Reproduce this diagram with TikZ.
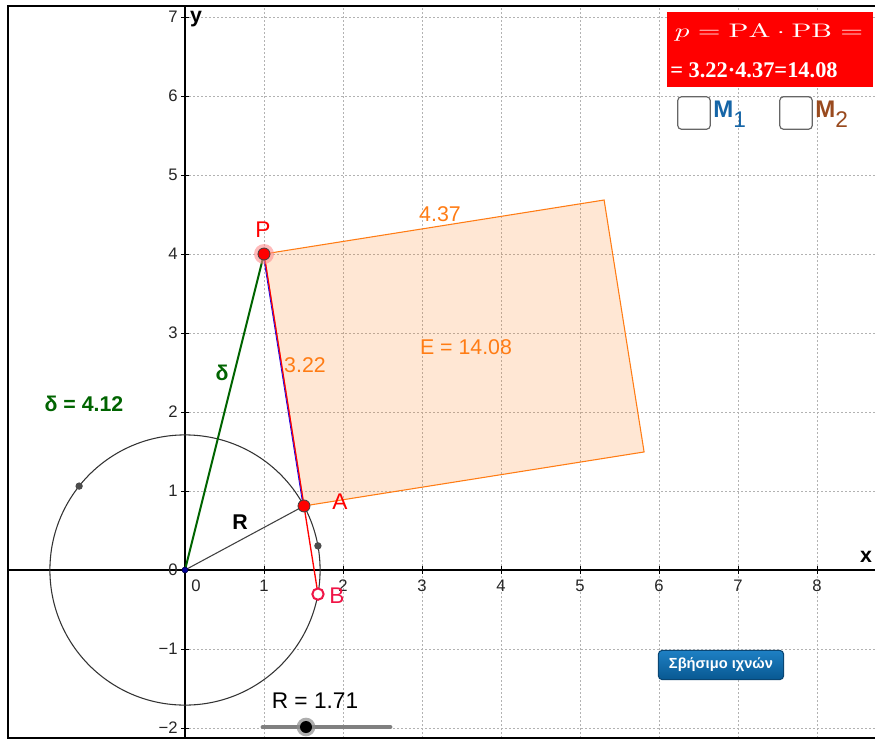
\documentclass[tikz,border=0pt]{standalone}
\usepackage{fontspec}
\usepackage{graphicx}
\newfontfamily\sfx{Liberation Sans}
\newfontfamily\serifx{Liberation Serif}
\usetikzlibrary{calc}
\definecolor{ggorange}{RGB}{255,124,20}
\definecolor{gggreen}{RGB}{0,100,0}
\definecolor{ggcrimson}{RGB}{240,20,70}
\definecolor{ggblue}{RGB}{21,101,167}
\definecolor{ggbrown}{RGB}{153,74,30}
\definecolor{btntop}{RGB}{30,128,196}
\definecolor{btnbot}{RGB}{8,88,145}
\definecolor{btnedge}{RGB}{10,70,115}
\begin{document}
\begin{tikzpicture}[x=0.75pt,y=-0.75pt,
  gridln/.style={draw=black!30, line width=0.75pt, dash pattern=on 1.5pt off 1.5pt},
  axisln/.style={draw=black, line width=1pt},
  tickln/.style={draw=black, line width=0.75pt},
  lbl/.style={inner sep=0pt, font=\sfx\fontsize{17}{19}\selectfont},
  olbl/.style={inner sep=0pt, text=ggorange, font=\sfx\fontsize{16}{18}\selectfont},
  blbl/.style={inner sep=0pt, font=\sfx\bfseries\fontsize{16}{18}\selectfont},
  ticklbl/.style={inner sep=0pt, font=\sfx\fontsize{12.5}{14}\selectfont, text=black!85},
  axlbl/.style={inner sep=0pt, font=\sfx\bfseries\fontsize{16}{18}\selectfont},
  ptred/.style={circle, inner sep=0pt, minimum size=9pt, fill=red, draw=black!75, line width=0.6pt},
  halo/.style={circle, inner sep=0pt, minimum size=15pt, fill=red!45, fill opacity=0.6},
  ptgray/.style={circle, inner sep=0pt, minimum size=5.5pt, fill=black!70},
  ptopen/.style={circle, inner sep=0pt, minimum size=8.5pt, draw=ggcrimson, line width=1.5pt, fill=white},
  ptblue/.style={circle, inner sep=0pt, minimum size=4.5pt, fill=blue!60!black, draw=blue!25!black, line width=0.4pt},
  chk/.style={rectangle, rounded corners=3pt, draw=black!60, line width=0.9pt, fill=white, minimum size=24.5pt, inner sep=0pt},
  btn/.style={rectangle, rounded corners=3pt, draw=btnedge, line width=0.8pt, top color=btntop, bottom color=btnbot, minimum width=94pt, minimum height=22pt, inner sep=0pt, text=white, font=\sfx\bfseries\fontsize{11}{13}\selectfont}
]
\useasboundingbox (0,0) rectangle (875,740);
\fill[white] (0,0) rectangle (875,740);

\begin{scope}[shift={(185,570)}, x=59.25pt, y=59.25pt]
  % grid
  \foreach \i in {1,...,8} \draw[gridln] (\i,-2.127) -- (\i,7.139);
  \foreach \j in {-2,-1,1,2,3,4,5,6,7} \draw[gridln] (0,\j) -- (8.74,\j);
  % axes
  \draw[axisln] (-2.24,0) -- (8.74,0);
  \draw[axisln] (0,-2.127) -- (0,7.139);
  \foreach \i in {1,...,8} \draw[tickln] (\i,-0.045) -- (\i,0.045);
  \foreach \j in {-2,-1,1,2,3,4,5,6,7} \draw[tickln] (-0.045,\j) -- (0.045,\j);
  % tick labels
  \node[ticklbl] (x0) at (0.14,-0.2) {0};
  \foreach \i in {1,...,8} \node[ticklbl] (x\i) at (\i,-0.2) {\i};
  \node[ticklbl, anchor=east] (y0) at (-0.09,0) {0};
  \foreach \j in {1,...,7} \node[ticklbl, anchor=east] (y\j) at (-0.09,\j) {\j};
  \node[ticklbl, anchor=east] (ym1) at (-0.09,-1) {−1};
  \node[ticklbl, anchor=east] (ym2) at (-0.09,-2) {−2};
  \node[axlbl] (xlab) at (8.62,0.17) {x};
  \node[axlbl] (ylab) at (0.14,6.97) {y};

  % geometry
  \coordinate (O) at (0,0);
  \coordinate (P) at (1,4);
  \coordinate (A) at (1.5062,0.8109);
  \coordinate (B) at (1.6834,-0.3051);
  \coordinate (C) at (5.3051,4.6834);
  \coordinate (D) at (5.8113,1.4943);
  \coordinate (G1) at (141.6:1.71);
  \coordinate (G2) at (10.3:1.71);

  \fill[ggorange, fill opacity=0.18] (P) -- (C) -- (D) -- (A) -- cycle;
  \draw[ggorange, line width=0.8pt] (A) -- (P) -- (C) -- (D) -- cycle;
  \draw[black!80, line width=0.8pt] (O) circle (1.71);
  \draw[black!75, line width=0.8pt] (O) -- (A);
  \draw[gggreen, line width=1.5pt] (O) -- (P);
  \draw[red, line width=1pt] (P) -- (B);
  \draw[blue!70!violet, line width=0.6pt, transform canvas={xshift=-0.7pt}] (P) -- (A);

  \node[halo] (Ph) at (P) {};
  \node[ptred] (Pn) at (P) {};
  \node[ptred] (An) at (A) {};
  \node[ptopen] (Bn) at (B) {};
  \node[ptgray] (G1n) at (G1) {};
  \node[ptgray] (G2n) at (G2) {};
  \node[ptblue] (On) at (O) {};
\end{scope}

% labels (pixel coordinates)
\node[lbl, text=red] (lP) at (263,230) {P};
\node[lbl, text=red] (lA) at (340,502) {A};
\node[lbl, text=ggcrimson] (lB) at (337,596) {B};
\node[olbl] (l322) at (305,365) {3.22};
\node[olbl] (l437) at (440,214) {4.37};
\node[olbl] (lE) at (466,347) {E = 14.08};
\node[blbl, text=gggreen] (ldelta) at (222,373) {δ};
\node[blbl, text=gggreen] (ldv) at (84,404) {δ = 4.12};
\node[blbl, text=black, font=\sfx\bfseries\fontsize{16}{18}\selectfont] (lR) at (240,522) {R};

% slider
\coordinate (s1) at (263,727);
\coordinate (s2) at (390,727);
\draw[black!50, line width=3.6pt, line cap=round] (s1) -- (s2);
\node[circle, fill=black!45, fill opacity=0.7, minimum size=14pt, inner sep=0pt] (knobh) at (306,727) {};
\node[circle, fill=black, minimum size=9pt, inner sep=0pt] (knob) at (306,727) {};
\node[inner sep=0pt, text=black, font=\sfx\fontsize{17}{19}\selectfont] (lRv) at (315,701) {R = 1.71};

% button
\node[btn] (btnn) at (721,665) {Σβήσιμο ιχνών};

% red box
\fill[red] (667,12) rectangle (873,87);
\node[text=white, anchor=base, inner sep=0pt] (eq1) at (769,37) {\resizebox{141pt}{10.5pt}{$p=\mathrm{PA}\cdot\mathrm{PB}=$}};
\node[text=white, anchor=base west, inner sep=0pt, font=\serifx\bfseries\fontsize{16.8}{18}\selectfont] (eq2) at (670,77) {= 3.22·4.37=14.08};

% checkboxes
\node[chk] (cb1) at (694,113) {};
\node[chk] (cb2) at (796,113) {};
\node[anchor=base west, inner sep=0pt, text=ggblue, font=\sfx\bfseries\fontsize{18}{19}\selectfont] (m1) at (713,117) {M\raisebox{-7.5pt}{\mdseries\fontsize{17}{17}\selectfont 1}};
\node[anchor=base west, inner sep=0pt, text=ggbrown, font=\sfx\bfseries\fontsize{18}{19}\selectfont] (m2) at (815,117) {M\raisebox{-7.5pt}{\mdseries\fontsize{17}{17}\selectfont 2}};

% frame
\draw[black, line width=1.8pt] (875,6) -- (8,6) -- (8,738) -- (875,738);
\end{tikzpicture}
\end{document}
